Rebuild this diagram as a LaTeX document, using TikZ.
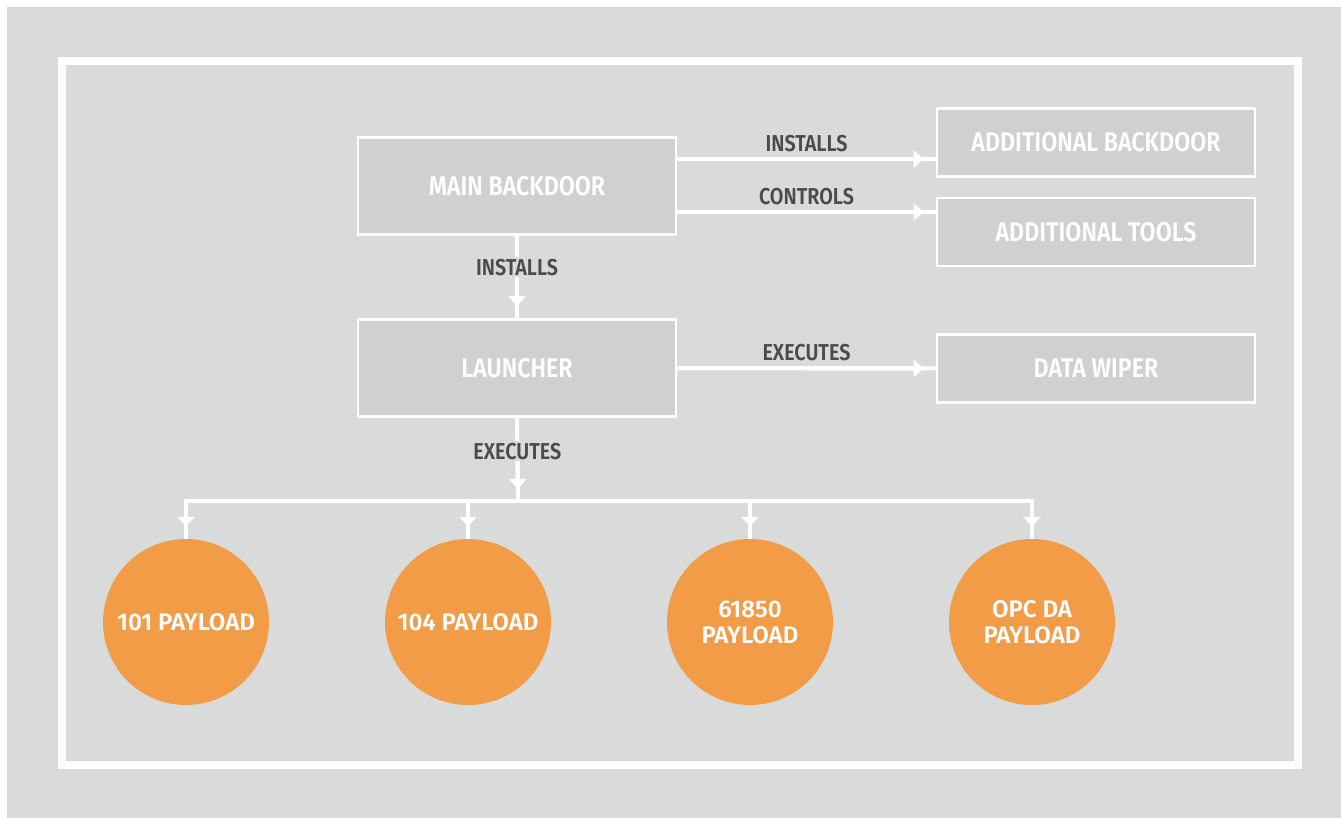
\documentclass[tikz,border=0pt]{standalone}
\usepackage{fontspec}
\setmainfont{Fira Sans}[UprightFont=* SemiBold,BoldFont=* Bold]
\newfontfamily\condfont{Fira Sans}[FakeStretch=0.86,UprightFont=* SemiBold]
\usetikzlibrary{arrows.meta}
\definecolor{bgc}{HTML}{D9DBDA}
\definecolor{boxc}{HTML}{CFD1D0}
\definecolor{labc}{HTML}{4A4C4C}
\definecolor{orc}{HTML}{F39C47}
\tikzset{
  x=1pt,y=-1pt,
  box/.style={draw=white,line width=2.6pt,fill=boxc,minimum width=318pt,text=white,font=\condfont\fontsize{27}{30}\selectfont,inner sep=0pt},
  pay/.style={circle,fill=orc,minimum size=166pt,inner sep=0pt,text=white,align=center,font=\fontsize{24}{26}\selectfont},
  lab/.style={text=labc,font=\condfont\fontsize{23}{26}\selectfont,inner sep=0pt},
  wire/.style={draw=white,line width=4pt},
  conn/.style={wire,postaction={draw=white,line width=4pt,shorten >=12pt,-{Triangle[length=10pt,width=17pt]}}}
}
\begin{document}
\begin{tikzpicture}
\useasboundingbox (0,0) rectangle (1341,818);
\fill[white] (0,0) rectangle (1341,818);
\fill[bgc] (7,7) rectangle (1341,818);
\draw[white,line width=8pt] (62,61) rectangle (1298,765);
% boxes
\node[box,minimum height=97pt] (main) at (517,186) {MAIN BACKDOOR};
\node[box,minimum height=97pt] (launch) at (517,368) {LAUNCHER};
\node[box,minimum height=68pt] (addb) at (1096,142.5) {ADDITIONAL BACKDOOR};
\node[box,minimum height=68pt] (addt) at (1096,232) {ADDITIONAL TOOLS};
\node[box,minimum height=68pt] (wiper) at (1096,368.5) {DATA WIPER};
% payloads
\node[pay] (p1) at (186,622) {101 PAYLOAD};
\node[pay] (p2) at (468,622) {104 PAYLOAD};
\node[pay] (p3) at (750,622) {61850\\PAYLOAD};
\node[pay] (p4) at (1032,622) {OPC DA\\PAYLOAD};
% connectors
\draw[conn] (main.east |- 0,159) -- (addb.west |- 0,159) node[lab,midway,above=5pt] {INSTALLS};
\draw[conn] (main.east |- 0,212) -- (addt.west |- 0,212) node[lab,midway,above=5pt] {CONTROLS};
\draw[conn] (launch.east) -- (wiper.west) node[lab,midway,above=5pt] {EXECUTES};
\draw[conn] (main.south) -- (launch.north) node[lab,pos=0.38,fill=bgc,inner sep=2pt] {INSTALLS};
\coordinate (hub) at (518,501);
\coordinate (hl) at (186,501);
\coordinate (hr) at (1032,501);
\draw[conn] (launch.south) -- (hub) node[lab,pos=0.4,fill=bgc,inner sep=2pt] {EXECUTES};
\draw[wire] ([xshift=-2pt]hl) -- ([xshift=2pt]hr);
\draw[conn] (hl) -- (p1.north);
\draw[conn] (p2.north |- hub) -- (p2.north);
\draw[conn] (p3.north |- hub) -- (p3.north);
\draw[conn] (hr) -- (p4.north);
\end{tikzpicture}
\end{document}
